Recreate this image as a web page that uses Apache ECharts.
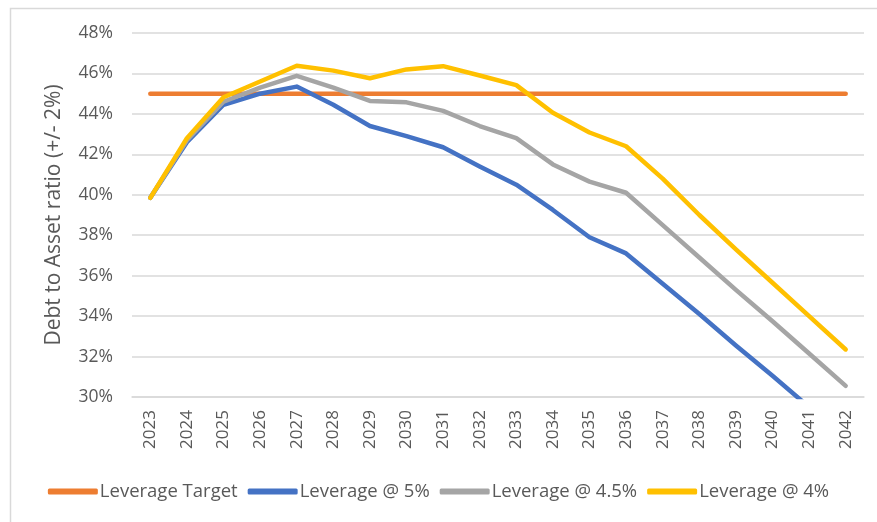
<!DOCTYPE html>
<html>
<head>
<meta charset="utf-8">
<script src="https://cdn.jsdelivr.net/npm/echarts@6/dist/echarts.min.js"></script>
<style>
html,body{margin:0;padding:0;background:#fff;}
#c{width:877px;height:522px;}
</style>
</head>
<body>
<div id="c"></div>
<script>
var years = ['2023','2024','2025','2026','2027','2028','2029','2030','2031','2032','2033','2034','2035','2036','2037','2038','2039','2040','2041','2042'];
var leverageTarget = [45,45,45,45,45,45,45,45,45,45,45,45,45,45,45,45,45,45,45,45];
var leverage5 = [39.85,42.6,44.45,45.0,45.35,44.45,43.4,42.9,42.35,41.4,40.5,39.25,37.9,37.1,35.6,34.1,32.55,31.05,29.5,28.0];
var leverage45 = [39.85,42.7,44.6,45.3,45.88,45.3,44.64,44.57,44.15,43.4,42.8,41.5,40.65,40.1,38.5,36.9,35.3,33.75,32.15,30.55];
var leverage4 = [39.85,42.8,44.82,45.6,46.38,46.14,45.76,46.2,46.36,45.9,45.42,44.06,43.08,42.4,40.8,39.0,37.3,35.65,34.0,32.35];
var yTicks = [30,32,34,36,38,40,42,44,46,48];

var FONT = 'Open Sans';
var chart = echarts.init(document.getElementById('c'), null, {renderer:'canvas'});
function mk(name, data, color){
  return {name:name, type:'line', data:data, symbol:'none', smooth:false, clip:true,
    lineStyle:{color:color, width:4.5, cap:'round', join:'round'}, itemStyle:{color:color}};
}
chart.setOption({
  animation:false,
  graphic:[{type:'rect', left:8, top:6, shape:{width:900, height:540}, style:{fill:'none', stroke:'#d9d9d9', lineWidth:1.5}}],
  grid:{left:132, right:13, top:33, bottom:125, containLabel:false},
  legend:{bottom:16, left:'center', itemWidth:50, itemHeight:6, itemGap:10, icon:'roundRect',
    textStyle:{fontFamily:FONT, fontSize:18.5, color:'#595959', padding:[0,0,0,-3]},
    data:['Leverage Target','Leverage @ 5%','Leverage @ 4.5%','Leverage @ 4%']},
  xAxis:{type:'category', data:years, boundaryGap:true,
    axisLine:{show:true, lineStyle:{color:'#d9d9d9', width:1.5}}, axisTick:{show:false},
    axisLabel:{rotate:90, margin:13, fontFamily:FONT, fontSize:17, color:'#595959', interval:0}},
  yAxis:{type:'value', min:30, max:48, interval:2,
    name:'Debt to Asset ratio (+/- 2%)', nameLocation:'middle', nameGap:67, nameRotate:90,
    nameTextStyle:{fontFamily:FONT, fontSize:21, color:'#595959'},
    axisLine:{show:false}, axisTick:{show:false},
    splitLine:{lineStyle:{color:'#d9d9d9', width:1.5}},
    axisLabel:{margin:19, fontFamily:FONT, fontSize:17.5, color:'#595959', formatter:function(v){return yTicks.indexOf(v)>=0 ? v+'%' : '';}}},
  series:[
    mk('Leverage Target', leverageTarget, '#ED7D31'),
    mk('Leverage @ 5%', leverage5, '#4472C4'),
    mk('Leverage @ 4.5%', leverage45, '#A5A5A5'),
    mk('Leverage @ 4%', leverage4, '#FFC000')
  ]
});
</script>
</body>
</html>
